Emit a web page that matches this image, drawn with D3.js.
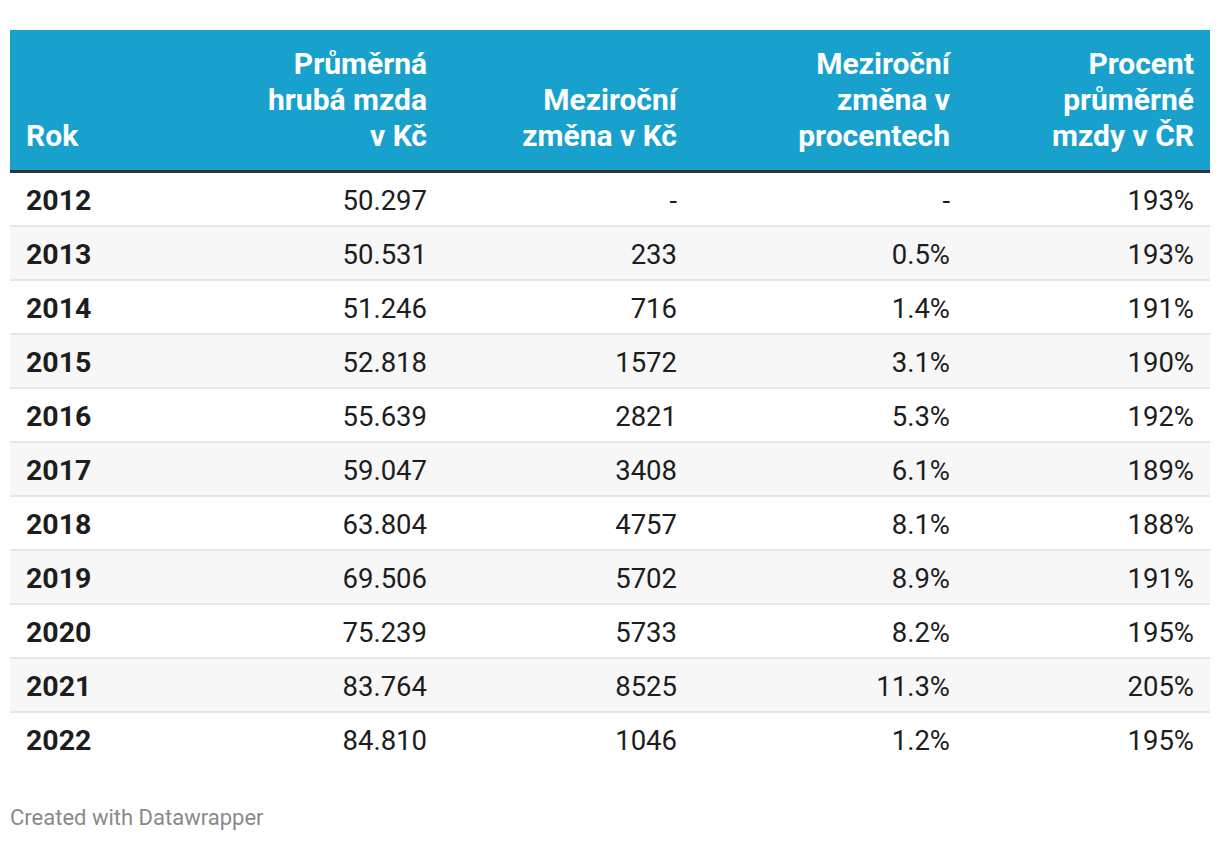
<!DOCTYPE html>
<html><head><meta charset="utf-8">
<script src="https://cdn.jsdelivr.net/npm/d3@7"></script>
<style>body{margin:0;background:#fff;}svg{display:block;font-family:Roboto,sans-serif;}</style>
</head><body>
<script>
const years = ["2012","2013","2014","2015","2016","2017","2018","2019","2020","2021","2022"];
const avgWage = ["50.297","50.531","51.246","52.818","55.639","59.047","63.804","69.506","75.239","83.764","84.810"];
const changeKc = ["-","233","716","1572","2821","3408","4757","5702","5733","8525","1046"];
const changePct = ["-","0.5%","1.4%","3.1%","5.3%","6.1%","8.1%","8.9%","8.2%","11.3%","1.2%"];
const pctOfCR = ["193%","193%","191%","190%","192%","189%","188%","191%","195%","205%","195%"];
const headers = [["Rok"],["Průměrná","hrubá mzda","v Kč"],["Meziroční","změna v Kč"],["Meziroční","změna v","procentech"],["Procent","průměrné","mzdy v ČR"]];

const W=1220,H=842;
const svg=d3.select("body").append("svg").attr("width",W).attr("height",H);
const left=10,right=1210,headTop=30,headBottom=170,borderH=3,rowH=54;
const bodyTop=headBottom+borderH;
const colX=[26,427,677,950,1194];
const anchors=["start","end","end","end","end"];
const y=d3.scaleBand().domain(years).range([bodyTop,bodyTop+rowH*years.length]);

svg.append("rect").attr("x",left).attr("y",headTop).attr("width",right-left).attr("height",headBottom-headTop).attr("fill","#18a1cd");
svg.append("rect").attr("x",left).attr("y",headBottom).attr("width",right-left).attr("height",borderH).attr("fill","#333333");

headers.forEach((lines,i)=>{
  const n=lines.length;
  lines.forEach((t,j)=>{
    svg.append("text").attr("x",colX[i]).attr("y",146-(n-1-j)*36)
      .attr("text-anchor",anchors[i]).attr("fill","#fff").attr("font-weight","700")
      .attr("font-size",30).text(t);
  });
});

const cols=[years,avgWage,changeKc,changePct,pctOfCR];
const rows=svg.append("g").selectAll("g").data(years).join("g").attr("transform",d=>`translate(0,${y(d)})`);
rows.append("rect").attr("x",left).attr("width",right-left).attr("height",y.bandwidth())
  .attr("fill",(d,i)=>i%2===1?"#f7f7f7":"#ffffff");
rows.filter((d,i)=>i<years.length-1).append("rect").attr("x",left).attr("y",y.bandwidth()-2).attr("width",right-left).attr("height",2).attr("fill","#e6e6e6");
cols.forEach((arr,c)=>{
  rows.append("text").attr("x",colX[c]).attr("y",y.bandwidth()/2+10)
    .attr("text-anchor",anchors[c]).attr("font-size",c===0?28.5:27.5)
    .attr("font-weight",c===0?"700":"400").attr("fill","#1d1d1d")
    .text((d,i)=>arr[i]);
});

svg.append("text").attr("x",10).attr("y",825).attr("font-size",22).attr("fill","#8a8a8a").text("Created with Datawrapper");
</script>
</body></html>
